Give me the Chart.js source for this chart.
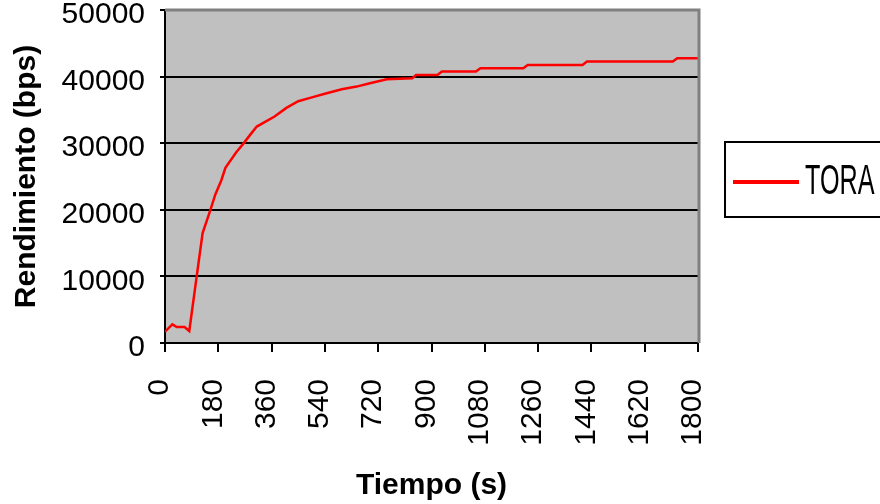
<!DOCTYPE html>
<html>
<head>
<meta charset="utf-8">
<script src="https://cdn.jsdelivr.net/npm/chart.js@4"></script>
<style>
  html, body { margin: 0; padding: 0; background: #fff; }
  #wrap { width: 880px; height: 504px; }
</style>
</head>
<body>
<div id="wrap"><canvas id="chart" width="880" height="504"></canvas></div>
<script>
// Tiempo (s) / Rendimiento (bps)
const times = [0, 25, 40, 66, 82, 107, 127, 152, 170, 190, 204, 240, 264, 290, 310, 370, 410, 450, 490, 546, 597, 647, 692, 749, 835, 848, 920, 935, 1050, 1065, 1210, 1225, 1410, 1425, 1715, 1730, 1800];
const tora = [1700, 2800, 2400, 2400, 1800, 10000, 16500, 19800, 22300, 24400, 26300, 28600, 29900, 31400, 32500, 34000, 35300, 36300, 36800, 37500, 38100, 38500, 39000, 39600, 39750, 40250, 40250, 40750, 40750, 41250, 41250, 41750, 41750, 42250, 42250, 42750, 42750];
const xTicks = [0, 180, 360, 540, 720, 900, 1080, 1260, 1440, 1620, 1800];
const yTicks = [0, 10000, 20000, 30000, 40000, 50000];
const seriesName = 'TORA';

const FONT = "'Liberation Sans', Arial, sans-serif";

const plotFrame = {
  id: 'plotFrame',
  beforeDraw(chart) {
    const { ctx, chartArea: a } = chart;
    ctx.save();
    ctx.fillStyle = '#c0c0c0';
    ctx.fillRect(a.left, a.top, a.right - a.left, a.bottom - a.top);
    ctx.restore();
  },
  afterDatasetsDraw(chart) {
    const { ctx, chartArea: a } = chart;
    ctx.save();
    // grey frame on top and right
    ctx.strokeStyle = '#808080';
    ctx.lineWidth = 3;
    ctx.beginPath();
    ctx.moveTo(a.left, a.top);
    ctx.lineTo(a.right + 1, a.top);
    ctx.lineTo(a.right + 1, a.bottom);
    ctx.stroke();
    // legend box
    ctx.strokeStyle = '#000';
    ctx.lineWidth = 2;
    ctx.fillStyle = '#fff';
    ctx.fillRect(725, 142, 160, 75);
    ctx.strokeRect(725, 142, 160, 75);
    ctx.strokeStyle = '#ff0000';
    ctx.lineWidth = 4;
    ctx.beginPath();
    ctx.moveTo(733, 182);
    ctx.lineTo(799, 182);
    ctx.stroke();
    ctx.fillStyle = '#000';
    ctx.font = '42px ' + FONT;
    ctx.textBaseline = 'alphabetic';
    ctx.translate(805, 194);
    ctx.scale(0.6, 1);
    ctx.fillText(seriesName, 0, 0);
    ctx.restore();
  }
};

new Chart(document.getElementById('chart'), {
  type: 'line',
  data: {
    datasets: [{
      label: seriesName,
      data: times.map((t, i) => ({ x: t, y: tora[i] })),
      borderColor: '#ff0000',
      borderWidth: 2.5,
      pointRadius: 0,
      tension: 0,
      fill: false
    }]
  },
  options: {
    responsive: false,
    animation: false,
    devicePixelRatio: 1,
    layout: { padding: { top: 10, right: 182, left: 0, bottom: 0 } },
    plugins: { legend: { display: false }, tooltip: { enabled: false } },
    scales: {
      x: {
        type: 'linear',
        min: 0,
        max: 1800,
        afterFit: s => { s.height = 161; s.paddingLeft = 0; s.paddingRight = 0; },
        afterBuildTicks: s => { s.ticks = xTicks.map(v => ({ value: v })); },
        ticks: {
          autoSkip: false,
          minRotation: 90,
          maxRotation: 90,
          padding: 27,
          labelOffset: -5,
          color: '#000',
          font: { family: FONT, size: 30 },
          callback: v => String(v)
        },
        grid: { drawOnChartArea: false, drawTicks: true, tickLength: 9, color: '#000', lineWidth: 2 },
        border: { display: true, color: '#000', width: 2 },
        title: {
          display: true,
          text: 'Tiempo (s)',
          color: '#000',
          padding: { top: 0, bottom: 0 },
          font: { family: FONT, size: 30, weight: 'bold' }
        }
      },
      y: {
        min: 0,
        max: 50000,
        afterFit: s => { s.width = 165; s.paddingTop = 0; s.paddingBottom = 0; },
        afterBuildTicks: s => { s.ticks = yTicks.map(v => ({ value: v })); },
        ticks: {
          padding: 15,
          labelOffset: 5,
          color: '#000',
          font: { family: FONT, size: 30 },
          callback: v => String(v)
        },
        grid: { color: '#000', lineWidth: 2, tickLength: 5 },
        border: { display: true, color: '#000', width: 2 },
        title: {
          display: true,
          text: 'Rendimiento (bps)',
          color: '#000',
          padding: { top: 9, bottom: 0 },
          font: { family: FONT, size: 30, weight: 'bold' }
        }
      }
    }
  },
  plugins: [plotFrame]
});
</script>
</body>
</html>
